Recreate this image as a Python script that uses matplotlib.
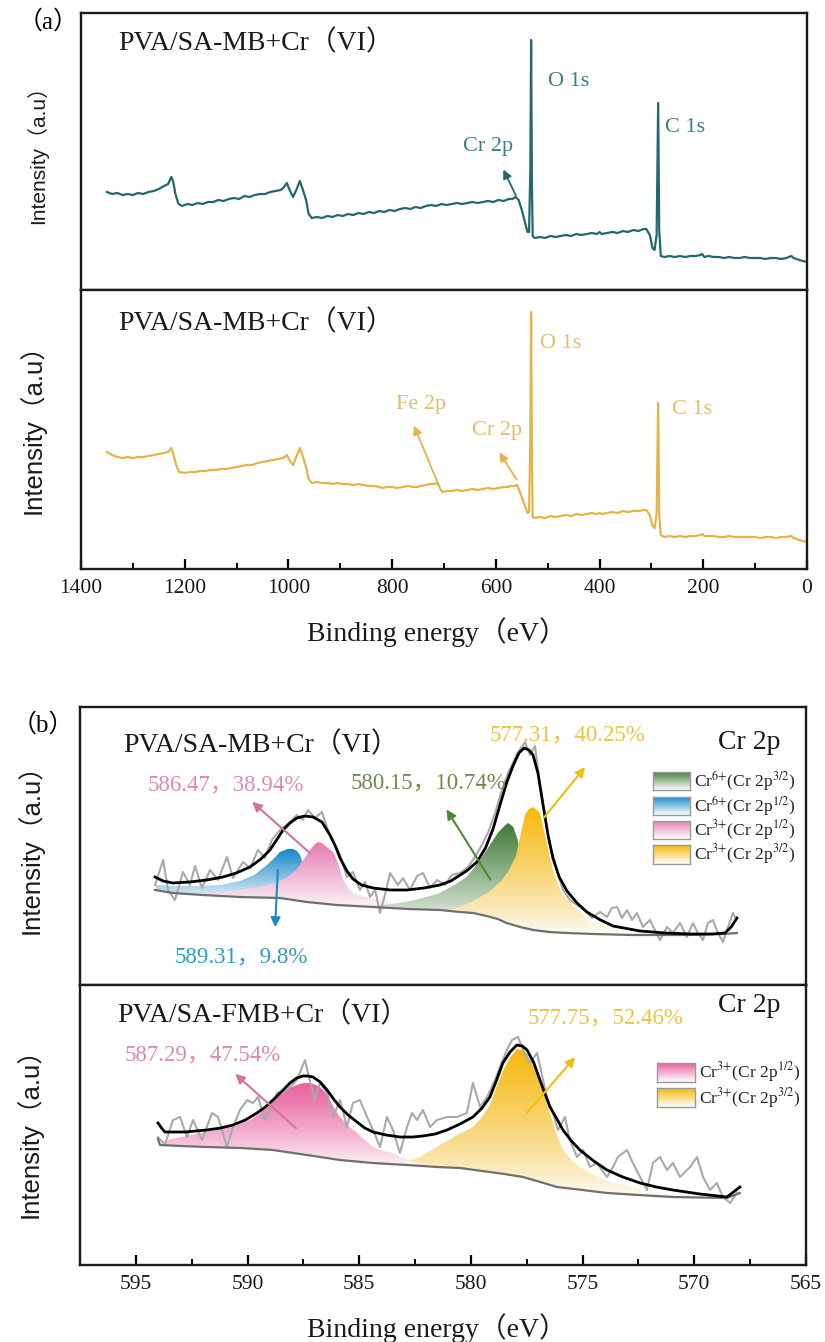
import numpy as np
import matplotlib
matplotlib.use('Agg')
import matplotlib.pyplot as plt
from matplotlib.ticker import FixedLocator, MultipleLocator
from matplotlib.patches import Polygon
from matplotlib.colors import to_rgb
from matplotlib.font_manager import FontProperties

plt.rcParams['font.family'] = ['Liberation Serif', 'Noto Sans CJK SC']
plt.rcParams['mathtext.fontset'] = 'stix'
SERIF = ['Liberation Serif', 'Noto Sans CJK SC']
SANS = ['Liberation Sans', 'Noto Sans CJK SC']

surv_ticks = [1400, 1200, 1000, 800, 600, 400, 200, 0]
cr_ticks = [595, 590, 585, 580, 575, 570, 565]

# ---------------- (a) survey spectra ----------------
surv1_e = [1350, 1340, 1330, 1320, 1310, 1300, 1290, 1280, 1270, 1260, 1250, 1240, 1232, 1226, 1222,
           1218, 1212, 1205, 1195, 1185, 1175, 1165, 1155, 1145, 1135, 1125, 1115, 1105, 1095, 1085,
           1075, 1065, 1055, 1045, 1035, 1025, 1015, 1010, 1003,
           996, 991, 984, 978, 972, 966, 961, 955, 945, 935, 925, 915, 905, 895, 885, 875, 865, 855,
           845, 835, 825, 815, 805, 795, 785, 775, 765, 755, 745, 735, 725, 715, 705, 695, 685, 675,
           665, 655, 645, 635, 625, 615, 605, 595, 585, 575, 568, 562, 556, 550, 544, 539, 536,
           533.5, 532, 530.5, 529, 525, 515, 505, 495, 485, 475, 465, 455, 445, 435, 425, 415, 405,
           400, 396, 385, 375, 365, 355, 345, 335, 325, 315, 310, 303, 298, 294, 290, 287, 285, 282,
           275, 265, 255, 245, 235, 225, 215, 205, 202, 198, 190, 180, 170, 160, 150, 140, 130, 120,
           110, 100, 90, 80, 70, 60, 50, 40, 30, 26, 20, 15, 8, 0]
surv1_i = [98, 96, 97, 95, 96, 95, 97, 96, 98, 99, 101, 104, 106, 113, 108,
           96, 86, 84, 86, 85, 87, 86, 88, 88, 90, 89, 91, 92, 91, 94,
           93, 95, 96, 96, 98, 99, 100, 102, 107,
           98, 93, 101, 109, 100, 90, 76, 72, 73, 72, 74, 73, 75, 74, 76, 75, 77, 76,
           78, 77, 79, 78, 80, 79, 81, 82, 81, 83, 82, 84, 85, 84, 86, 85, 86, 87,
           86, 87, 88, 87, 88, 89, 88, 90, 89, 91, 91, 93, 90, 80, 68, 58, 58,
           120, 250, 110, 54, 52, 53, 52, 54, 53, 54, 55, 54, 56, 55, 56, 57, 56,
           58, 56, 57, 58, 57, 59, 58, 60, 59, 61, 61, 55, 42, 40, 55, 187, 60, 34,
           33, 34, 33, 34, 33, 34, 34, 35, 36, 33, 34, 33, 33, 32, 33, 32, 32, 33,
           32, 32, 32, 31, 32, 32, 31, 32, 34, 32, 31, 30, 29, 28]

surv2_e = [1350, 1340, 1330, 1320, 1310, 1300, 1290, 1280, 1270, 1260, 1250, 1240, 1232, 1226, 1222,
           1217, 1211, 1200, 1190, 1180, 1170, 1160, 1150, 1140, 1130, 1120, 1110, 1100, 1090, 1080,
           1070, 1060, 1050, 1040, 1030, 1020, 1010, 1003,
           996, 991, 984, 978, 972, 966, 961, 955, 945, 935, 925, 915, 905, 895, 885, 875, 865, 855,
           845, 835, 825, 818, 810, 800, 790, 780, 770, 760, 752, 745, 735, 728, 720, 712, 707, 703,
           695, 685, 675, 665, 655, 645, 635, 625, 615, 605, 595, 585, 578, 570, 565, 559, 553, 546,
           539, 536, 533.5, 532, 530.5, 529, 525, 515, 505, 495, 485, 475, 465, 455, 445, 435, 425,
           415, 405, 400, 396, 385, 375, 365, 355, 345, 335, 325, 315, 310, 303, 298, 294, 290, 287,
           285, 282, 275, 265, 255, 245, 235, 225, 215, 205, 202, 198, 190, 180, 170, 160, 150, 140,
           130, 120, 110, 100, 90, 80, 70, 60, 50, 40, 30, 26, 20, 15, 8, 0]
surv2_i = [117, 114, 112, 111, 112, 111, 112, 112, 113, 114, 115, 116, 117, 121, 115,
           105, 97, 96, 97, 97, 98, 98, 99, 99, 100, 100, 101, 102, 103, 104,
           104, 106, 107, 108, 109, 110, 111, 114,
           107, 104, 113, 121, 112, 102, 90, 86, 87, 86, 86, 85, 86, 85, 85, 84, 85, 84,
           83, 83, 82, 81, 82, 82, 81, 82, 83, 82, 82, 83, 84, 85, 85, 86, 80, 77,
           78, 78, 79, 78, 79, 80, 79, 80, 81, 80, 81, 82, 82, 83, 83, 84, 76, 66,
           56, 57, 130, 257, 120, 52, 51, 52, 51, 53, 52, 53, 54, 53, 55, 54, 55,
           56, 55, 56, 55, 56, 57, 56, 58, 57, 58, 58, 59, 59, 54, 43, 41, 55, 166,
           55, 34, 32, 33, 32, 33, 32, 33, 33, 34, 35, 33, 33, 33, 32, 32, 33, 32,
           32, 32, 32, 32, 31, 32, 32, 31, 32, 32, 33, 31, 30, 29, 28, 27]

# ---------------- (b) Cr 2p, PVA/SA-MB+Cr(VI) ----------------
mb_raw_e = [594.14, 593.78, 593.56, 593.25, 592.89, 592.58, 592.35, 592.04, 591.68, 591.32, 590.92,
            590.65, 590.20, 589.89, 589.53, 589.22, 588.91, 588.55, 588.10, 587.79, 587.52, 587.29,
            586.98, 586.67, 586.40, 586.09, 585.86, 585.55, 585.28, 584.97, 584.74, 584.52, 584.29,
            584.07, 583.85, 583.62, 583.27, 583.04, 582.73, 582.41, 582.15, 581.83, 581.52, 581.16,
            580.85, 580.49, 580.13, 579.82, 579.51, 579.24, 578.92, 578.61, 578.34, 578.12, 577.89,
            577.58, 577.36, 577.13, 576.91, 576.69, 576.46, 576.15, 575.88, 575.57, 575.25, 574.90,
            574.58, 574.22, 573.91, 573.69, 573.46, 573.24, 573.01, 572.79, 572.57, 572.30, 571.99,
            571.54, 571.22, 570.96, 570.64, 570.33, 570.06, 569.84, 569.61, 569.39, 569.17, 568.94,
            568.72, 568.49, 568.27, 568.18]
mb_raw_i = [100, 125, 95, 85, 113, 100, 119, 97, 115, 105, 128,
            107, 123, 117, 135, 127, 145, 155, 163, 170, 165, 175,
            167, 173, 155, 140, 130, 108, 113, 95, 103, 88, 95,
            72, 90, 112, 100, 107, 95, 109, 112, 97, 105, 100,
            110, 112, 118, 128, 140, 152, 172, 195, 212, 222, 233,
            243, 230, 239, 200, 170, 140, 115, 95, 85, 80, 75,
            67, 73, 68, 77, 78, 67, 75, 65, 72, 58, 65,
            45, 58, 52, 62, 48, 62, 52, 45, 62, 65, 52,
            43, 58, 72, 68]

mb_fit_e = [594.14, 593.78, 593.34, 592.60, 591.82, 591.10, 590.50, 589.89, 589.40, 589.00, 588.70,
            588.41, 588.10, 587.79, 587.45, 587.07, 586.67, 586.31, 586.05, 585.86, 585.55, 585.28,
            584.90, 584.38, 583.60, 582.86, 582.10, 581.39, 580.90, 580.62, 580.20, 579.73, 579.35,
            579.01, 578.70, 578.39, 578.10, 577.85, 577.62, 577.40, 577.22, 577.00, 576.77, 576.55,
            576.33, 576.05, 575.70, 575.25, 574.81, 574.20, 573.64, 572.43, 571.30, 570.19, 569.20,
            568.63, 568.35, 568.09]
mb_fit_i = [108, 104, 102, 103, 105, 108, 112, 118, 126, 135, 145,
            155, 162, 167, 169, 168, 163, 150, 138, 127, 114, 106,
            100, 97, 95, 95, 97, 100, 104, 108, 114, 123, 137,
            156, 180, 203, 220, 232, 237, 235, 230, 212, 180, 150,
            127, 108, 94, 82, 73, 65, 59, 54, 52, 51, 51,
            52, 58, 67]

mb_bg_e = [594.14, 593.34, 592.00, 590.34, 588.55, 587.34, 586.00, 584.38, 582.80, 581.39, 580.50,
           579.90, 579.30, 578.80, 578.40, 577.80, 577.20, 576.50, 575.70, 574.50, 572.80, 570.50,
           568.70, 568.09]
mb_bg_i = [95, 92, 90, 88, 87, 83, 80, 78, 76, 75, 73,
           72, 69, 66, 62, 58, 55, 53, 52, 51, 50, 50,
           51, 52]

# components: Cr6+ 2p3/2 (green), Cr6+ 2p1/2 (blue), Cr3+ 2p1/2 (pink), Cr3+ 2p3/2 (yellow)
mb_g_e = [584.50, 583.50, 582.50, 581.50, 580.80, 580.20, 579.90, 579.50, 579.15, 578.80, 578.50,
          578.33, 578.10, 577.90, 577.70, 577.50, 577.30]
mb_g_i = [79, 81, 85, 91, 99, 108, 116, 128, 140, 152, 159,
          162, 158, 145, 120, 85, 58]
mb_b_e = [594.10, 593.30, 592.13, 591.20, 590.34, 589.70, 589.13, 588.80, 588.55, 588.20, 587.97,
          587.79, 587.65, 587.50, 587.38, 587.25]
mb_b_i = [100, 99, 99, 100, 104, 110, 120, 127, 133, 136, 136,
          134, 130, 120, 105, 88]
mb_p_e = [592.10, 590.65, 589.50, 588.80, 588.20, 587.79, 587.50, 587.20, 586.98, 586.85, 586.67,
          586.45, 586.17, 585.95, 585.72, 585.50, 585.28, 584.74, 584.07, 583.20, 582.40]
mb_p_i = [91, 94, 98, 102, 108, 116, 125, 135, 141, 143, 142,
          138, 133, 122, 105, 97, 92, 88, 85, 81, 78]
mb_y_e = [581.00, 580.50, 579.90, 579.20, 578.60, 578.30, 578.00, 577.80, 577.58, 577.40, 577.21,
          577.00, 576.91, 576.60, 576.33, 576.00, 575.70, 575.43, 574.67, 573.33, 572.00, 570.50]
mb_y_i = [75, 78, 84, 93, 105, 115, 128, 148, 170, 176, 178,
          174, 172, 142, 115, 95, 86, 80, 64, 55, 51, 50]

# ---------------- (b) Cr 2p, PVA/SA-FMB+Cr(VI) ----------------
fmb_raw_e = [594.01, 593.70, 593.34, 593.02, 592.71, 592.44, 592.04, 591.59, 591.32, 590.92, 590.65,
             590.34, 590.02, 589.76, 589.53, 589.22, 588.99, 588.68, 588.23, 587.79, 587.43, 587.20,
             586.98, 586.76, 586.44, 586.17, 585.86, 585.55, 585.28, 584.97, 584.65, 584.38, 584.07,
             583.76, 583.49, 583.18, 582.86, 582.64, 582.41, 582.15, 581.83, 581.52, 581.07, 580.62,
             580.18, 579.91, 579.59, 579.28, 578.92, 578.70, 578.39, 578.16, 577.89, 577.67, 577.36,
             577.04, 576.77, 576.60, 576.33, 576.10, 575.79, 575.57, 575.25, 574.98, 574.67, 574.36,
             573.91, 573.64, 573.42, 573.01, 572.75, 572.43, 572.12, 571.85, 571.54, 571.22, 570.96,
             570.64, 570.19, 569.88, 569.61, 569.30, 568.99, 568.72, 568.40, 568.09]
fmb_raw_i = [128, 120, 145, 148, 128, 145, 125, 152, 148, 118, 138,
             155, 165, 162, 168, 145, 155, 172, 175, 185, 205, 183,
             165, 182, 172, 148, 165, 138, 162, 165, 148, 135, 118,
             148, 135, 112, 138, 152, 145, 155, 138, 145, 148, 148,
             152, 182, 158, 168, 185, 198, 215, 225, 228, 215, 202,
             212, 185, 168, 152, 135, 148, 125, 108, 115, 98, 102,
             88, 98, 108, 115, 102, 88, 75, 102, 108, 95, 102,
             88, 98, 108, 88, 75, 82, 68, 62, 72]

fmb_fit_e = [594.01, 593.85, 593.70, 592.80, 591.82, 591.20, 590.65, 590.10, 589.58, 589.20, 588.86,
             588.45, 588.10, 587.80, 587.52, 587.30, 587.07, 586.75, 586.44, 586.15, 585.86, 585.50,
             585.10, 584.75, 584.38, 583.80, 583.18, 582.60, 582.15, 581.60, 581.07, 580.49, 579.91,
             579.50, 579.15, 578.85, 578.57, 578.25, 577.94, 577.70, 577.49, 577.20, 576.91, 576.70,
             576.46, 576.15, 575.88, 575.50, 575.12, 574.50, 573.91, 573.20, 572.43, 571.70, 570.96,
             569.75, 568.54, 568.30, 567.96]
fmb_fit_i = [142, 137, 133, 133, 135, 137, 140, 145, 152, 158, 165,
             174, 182, 187, 189, 189, 188, 183, 175, 166, 158, 150,
             143, 137, 133, 130, 128, 128, 129, 131, 135, 141, 148,
             157, 168, 185, 202, 213, 220, 219, 215, 203, 185, 172,
             158, 146, 135, 124, 115, 104, 95, 88, 82, 78, 75,
             71, 68, 72, 78]

fmb_bg_e = [594.01, 593.92, 593.00, 591.82, 590.30, 588.86, 587.34, 585.86, 584.40, 582.86, 581.50,
            580.49, 579.50, 578.50, 577.67, 576.90, 576.15, 575.00, 573.91, 572.50, 570.96, 568.54,
            567.96]
fmb_bg_i = [126, 120, 119, 118, 117, 115, 110, 105, 102, 100, 98,
            97, 94, 91, 88, 83, 78, 75, 72, 70, 68, 67, 72]

fmb_p_e = [593.61, 592.13, 590.65, 589.80, 589.13, 588.70, 588.41, 588.10, 587.79, 587.50, 587.34,
           587.05, 586.76, 586.50, 586.31, 586.10, 585.86, 585.50, 585.10, 584.70, 584.38, 583.90,
           583.49, 582.73, 582.00, 581.50]
fmb_p_i = [125, 132, 138, 146, 157, 167, 172, 177, 180, 182, 182,
           181, 178, 172, 165, 156, 148, 139, 132, 124, 118, 114,
           112, 104, 100, 98]
fmb_y_e = [593.80, 591.50, 589.00, 586.50, 584.50, 583.18, 582.30, 581.39, 580.60, 579.91, 579.50,
           579.15, 578.85, 578.57, 578.25, 577.94, 577.70, 577.49, 577.20, 576.91, 576.70, 576.46,
           576.30, 576.15, 575.88, 575.50, 575.12, 574.50, 573.91, 572.43, 570.96, 569.50]
fmb_y_i = [124, 122, 121, 116, 108, 101, 108, 120, 130, 138, 148,
           160, 178, 194, 207, 216, 215, 211, 198, 182, 168, 152,
           140, 130, 115, 105, 98, 90, 84, 76, 70, 68]

legend_mb = [r'Cr$^{6{+}}$(Cr 2p$^{3/2}$)', r'Cr$^{6{+}}$(Cr 2p$^{1/2}$)',
             r'Cr$^{3{+}}$(Cr 2p$^{1/2}$)', r'Cr$^{3{+}}$(Cr 2p$^{3/2}$)']
legend_fmb = [r'Cr$^{3{+}}$(Cr 2p$^{1/2}$)', r'Cr$^{3{+}}$(Cr 2p$^{3/2}$)']

GREEN, BLUE, PINK, YELLOW = '#3f7a36', '#1486c8', '#e57bb2', '#f6b80c'
TEAL, GOLD = '#24686d', '#e4b449'


def grad_fill(ax, e, top, bg_e, bg_i, color, z, power=1.0):
    e = np.asarray(e, float)
    top = np.asarray(top, float)
    base = np.interp(e[::-1], np.asarray(bg_e)[::-1], np.asarray(bg_i)[::-1])[::-1]
    top = np.maximum(top, base)
    verts = np.vstack([np.column_stack([e, top]), np.column_stack([e[::-1], base[::-1]])])
    poly = Polygon(verts, closed=True, facecolor='none', edgecolor='none')
    ax.add_patch(poly)
    g = np.linspace(0, 1, 256)[:, None] ** power
    c = np.array(to_rgb(color))
    img = (1 - g[..., None]) * np.ones(3) * 0.99 + g[..., None] * c
    img = np.repeat(img, 2, axis=1)
    im = ax.imshow(img, extent=[e.min(), e.max(), base.min(), top.max()], origin='lower',
                   aspect='auto', zorder=z, interpolation='bilinear')
    im.set_clip_path(poly)


def legend_box(ax, x, y, w, h, color, label):
    iax = ax.inset_axes([x, y, w, h])
    g = np.linspace(0, 1, 64)[:, None]
    c = np.array(to_rgb(color))
    img = (1 - g[..., None]) * c + g[..., None] * np.ones(3)
    iax.imshow(np.repeat(img, 2, axis=1), aspect='auto', extent=[0, 1, 0, 1], origin='upper')
    iax.set_xticks([])
    iax.set_yticks([])
    for s in iax.spines.values():
        s.set_color('#9a9a9a')
        s.set_linewidth(1.0)
    ax.text(x + w + 0.006, y + h / 2, label, transform=ax.transAxes, fontsize=12.5,
            ha='left', va='center', color='#222222')


def style(ax, xlim, ylim, ticks=None, minor=None):
    ax.set_xlim(*xlim)
    ax.set_ylim(*ylim)
    for s in ax.spines.values():
        s.set_linewidth(1.7)
        s.set_color('#1a1a1a')
    ax.tick_params(left=False, labelleft=False)
    if ticks is not None:
        ax.xaxis.set_major_locator(FixedLocator(ticks))
        ax.xaxis.set_minor_locator(MultipleLocator(minor))
        ax.tick_params(axis='x', which='major', direction='in', length=7, width=1.6,
                       pad=7, top=False)
        ax.tick_params(axis='x', which='minor', direction='in', length=4, width=1.4, top=False)
        tick_fp = FontProperties(family='Liberation Serif', size=15.5)
        ax.set_xticklabels([str(t) for t in ticks], fontproperties=tick_fp, color='#1a1a1a')
        ax.set_xlim(*xlim)
    else:
        ax.tick_params(axis='x', which='both', bottom=False, top=False, labelbottom=False)


fig = plt.figure(figsize=(8.25, 13.42), dpi=100)
W, H = 825.0, 1342.0


def px_axes(x0, y0, x1, y1):
    return fig.add_axes([x0 / W, 1 - y1 / H, (x1 - x0) / W, (y1 - y0) / H])


a1 = px_axes(81, 13, 807, 290)
a2 = px_axes(81, 290, 807, 569)
b1 = px_axes(80, 707, 806, 985)
b2 = px_axes(80, 985, 806, 1265)

TITLE_FS = 20
PEAK_FS = 16.5

# (a) top
a1.plot(surv1_e, surv1_i, color=TEAL, lw=1.6)
a1.text(1328, 247, 'PVA/SA-MB+Cr（VI）', fontsize=TITLE_FS, ha='left', va='center', color='#1a1a1a')
a1.text(615, 143, 'Cr 2p', fontsize=16, ha='center', va='center', color='#3b7e84')
a1.annotate('', xy=(588, 123), xytext=(559, 92),
            arrowprops=dict(arrowstyle='-|>', color=TEAL, lw=1.3, mutation_scale=13))
a1.text(499, 208, 'O 1s', fontsize=16, ha='left', va='center', color='#3b7e84')
a1.text(274, 162, 'C 1s', fontsize=16, ha='left', va='center', color='#3b7e84')
style(a1, (1400, 0), (0, 277))

# (a) bottom
a2.plot(surv2_e, surv2_i, color=GOLD, lw=1.6)
a2.text(1328, 246, 'PVA/SA-MB+Cr（VI）', fontsize=TITLE_FS, ha='left', va='center', color='#1a1a1a')
a2.text(744, 164, 'Fe 2p', fontsize=16, ha='center', va='center', color='#e2bd6e')
a2.annotate('', xy=(760, 146), xytext=(708, 81),
            arrowprops=dict(arrowstyle='-|>', color=GOLD, lw=1.3, mutation_scale=13))
a2.text(598, 139, 'Cr 2p', fontsize=16, ha='center', va='center', color='#e2bd6e')
a2.annotate('', xy=(596, 119), xytext=(557, 87),
            arrowprops=dict(arrowstyle='-|>', color=GOLD, lw=1.3, mutation_scale=13))
a2.text(515, 226, 'O 1s', fontsize=16, ha='left', va='center', color='#e2bd6e')
a2.text(260, 159, 'C 1s', fontsize=16, ha='left', va='center', color='#e2bd6e')
style(a2, (1400, 0), (0, 279), surv_ticks, 100)

# (b) top
grad_fill(b1, mb_b_e, mb_b_i, mb_bg_e, mb_bg_i, BLUE, 1.0, 0.9)
grad_fill(b1, mb_p_e, mb_p_i, mb_bg_e, mb_bg_i, PINK, 1.1, 0.9)
grad_fill(b1, mb_g_e, mb_g_i, mb_bg_e, mb_bg_i, GREEN, 1.2, 0.9)
grad_fill(b1, mb_y_e, mb_y_i, mb_bg_e, mb_bg_i, YELLOW, 1.3, 0.8)
b1.plot(mb_raw_e, mb_raw_i, color='#a9a9a9', lw=1.5, zorder=2)
b1.plot(mb_bg_e, mb_bg_i, color='#6f6f6f', lw=1.6, zorder=2.1)
b1.plot(mb_fit_e, mb_fit_i, color='black', lw=2.0, zorder=3)
b1.text(595.58, 240, 'PVA/SA-MB+Cr（VI）', fontsize=TITLE_FS, ha='left', va='center', color='#1a1a1a')
b1.text(594.46, 200, '586.47，38.94%', fontsize=PEAK_FS, ha='left', va='center', color='#d98ab3')
b1.text(593.25, 28, '589.31，9.8%', fontsize=PEAK_FS, ha='left', va='center', color='#2c9cc4')
b1.text(585.41, 202, '580.15，10.74%', fontsize=PEAK_FS, ha='left', va='center', color='#6f8b4c')
b1.text(579.15, 250, '577.31，40.25%', fontsize=PEAK_FS, ha='left', va='center', color='#efc43c')
b1.text(568.94, 242, 'Cr 2p', fontsize=20, ha='left', va='center', color='#1a1a1a')
for tail, head, c in [((587.11, 130), (589.89, 185), '#d5739f'),
                      ((588.64, 118), (588.77, 55), '#1a8cc4'),
                      ((579.06, 103), (581.16, 178), '#4f8a34'),
                      ((576.82, 165), (574.81, 220), '#f1bf12')]:
    b1.annotate('', xy=head, xytext=tail, zorder=4,
                arrowprops=dict(arrowstyle='-|>', color=c, lw=1.5, mutation_scale=14))
for k, (lab, c) in enumerate(zip(legend_mb, [GREEN, BLUE, PINK, YELLOW])):
    legend_box(b1, 0.789, 0.701 - k * 0.088, 0.051, 0.065, c, lab)
style(b1, (597.5, 565), (0, 278))

# (b) bottom
grad_fill(b2, fmb_y_e, fmb_y_i, fmb_bg_e, fmb_bg_i, YELLOW, 1.0, 0.8)
grad_fill(b2, fmb_p_e, fmb_p_i, fmb_bg_e, fmb_bg_i, '#e9609f', 1.1, 0.8)
b2.plot(fmb_raw_e, fmb_raw_i, color='#a9a9a9', lw=1.5, zorder=2)
b2.plot(fmb_bg_e, fmb_bg_i, color='#6f6f6f', lw=1.6, zorder=2.1)
b2.plot(fmb_fit_e, fmb_fit_i, color='black', lw=2.0, zorder=3)
b2.text(595.84, 250, 'PVA/SA-FMB+Cr（VI）', fontsize=TITLE_FS, ha='left', va='center', color='#1a1a1a')
b2.text(595.49, 210, '587.29，47.54%', fontsize=PEAK_FS, ha='left', va='center', color='#d98ab3')
b2.text(577.45, 247, '577.75，52.46%', fontsize=PEAK_FS, ha='left', va='center', color='#efc43c')
b2.text(568.94, 260, 'Cr 2p', fontsize=20, ha='left', va='center', color='#1a1a1a')
for tail, head, c in [((587.74, 135), (590.65, 193), '#d5739f'),
                      ((577.58, 150), (575.25, 210), '#f1bf12')]:
    b2.annotate('', xy=head, xytext=tail, zorder=4,
                arrowprops=dict(arrowstyle='-|>', color=c, lw=1.5, mutation_scale=14))
for k, (lab, c) in enumerate(zip(legend_fmb, ['#e9609f', YELLOW])):
    legend_box(b2, 0.795, 0.654 - k * 0.090, 0.052, 0.067, c, lab)
style(b2, (597.5, 565), (0, 280), cr_ticks, 2.5)

# figure labels
fig.text(48 / W, 1 - 22 / H, '（a）', fontsize=18, ha='center', va='center', family=SERIF)
fig.text(43 / W, 1 - 725 / H, '（b）', fontsize=18, ha='center', va='center', family=SERIF)
for xp, yp, fs in [(37, 150, 15), (32, 422, 18.5), (30, 843, 18.5), (29, 1127, 18.5)]:
    fig.text(xp / W, 1 - yp / H, 'Intensity（a.u）', rotation=90, fontsize=fs,
             ha='center', va='center', family=SANS, color='#1a1a1a')
for yp in (632, 1328):
    fig.text(437 / W, 1 - yp / H, 'Binding energy（eV）', fontsize=20,
             ha='center', va='center', color='#1a1a1a')

fig.savefig('out.png', dpi=100)
